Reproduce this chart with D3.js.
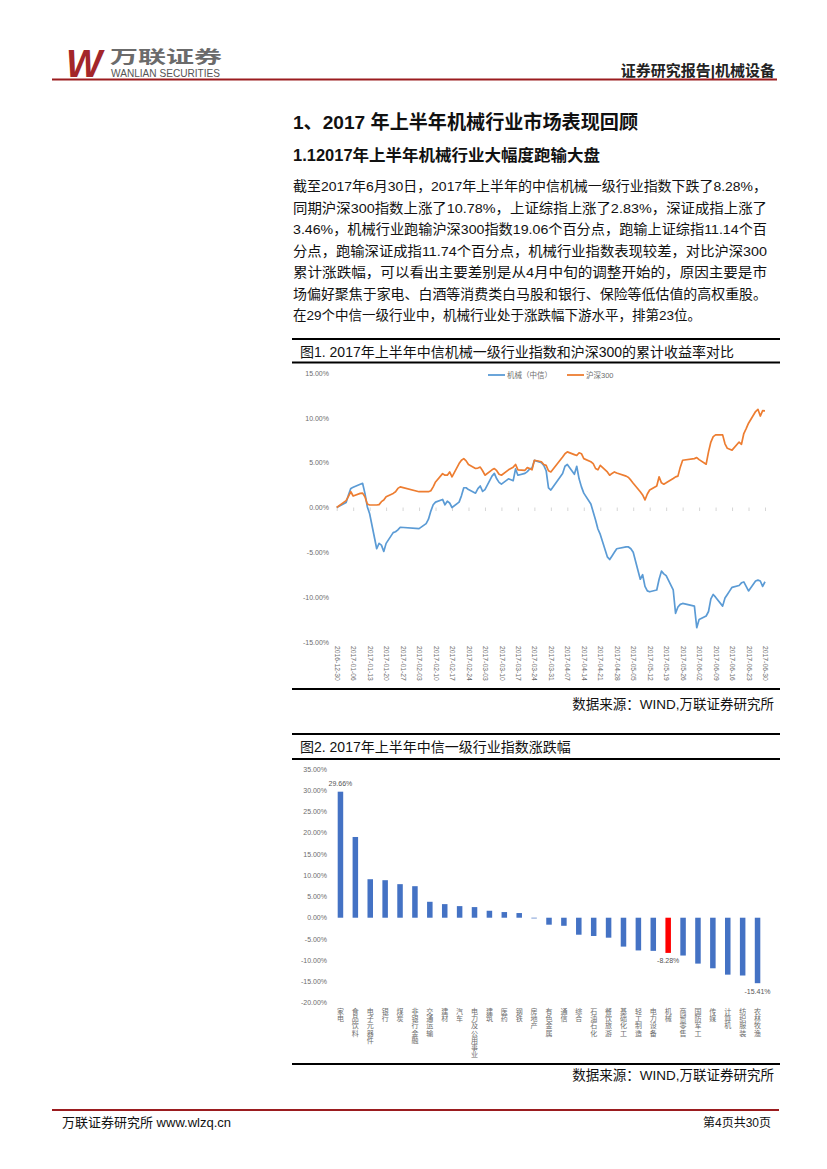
<!DOCTYPE html>
<html><head><meta charset="utf-8">
<script src="https://cdn.jsdelivr.net/npm/d3@7"></script>
<style>
body{margin:0;background:#fff;}
svg{display:block;font-family:"Liberation Sans","Noto Sans CJK SC",sans-serif;}
</style></head><body>
<svg id="page" width="827" height="1169"></svg>
<script>
// trading days of H1 2017 (figure 1)
const tradeDates = [
  "2016-12-30",
  "2017-01-03","2017-01-04","2017-01-05","2017-01-06",
  "2017-01-09","2017-01-10","2017-01-11","2017-01-12","2017-01-13",
  "2017-01-16","2017-01-17","2017-01-18","2017-01-19","2017-01-20",
  "2017-01-23","2017-01-24","2017-01-25","2017-01-26",
  "2017-02-03",
  "2017-02-06","2017-02-07","2017-02-08","2017-02-09","2017-02-10",
  "2017-02-13","2017-02-14","2017-02-15","2017-02-16","2017-02-17",
  "2017-02-20","2017-02-21","2017-02-22","2017-02-23","2017-02-24",
  "2017-02-27","2017-02-28","2017-03-01","2017-03-02","2017-03-03",
  "2017-03-06","2017-03-07","2017-03-08","2017-03-09","2017-03-10",
  "2017-03-13","2017-03-14","2017-03-15","2017-03-16","2017-03-17",
  "2017-03-20","2017-03-21","2017-03-22","2017-03-23","2017-03-24",
  "2017-03-27","2017-03-28","2017-03-29","2017-03-30","2017-03-31",
  "2017-04-05","2017-04-06","2017-04-07",
  "2017-04-10","2017-04-11","2017-04-12","2017-04-13","2017-04-14",
  "2017-04-17","2017-04-18","2017-04-19","2017-04-20","2017-04-21",
  "2017-04-24","2017-04-25","2017-04-26","2017-04-27","2017-04-28",
  "2017-05-02","2017-05-03","2017-05-04","2017-05-05",
  "2017-05-08","2017-05-09","2017-05-10","2017-05-11","2017-05-12",
  "2017-05-15","2017-05-16","2017-05-17","2017-05-18","2017-05-19",
  "2017-05-22","2017-05-23","2017-05-24","2017-05-25","2017-05-26",
  "2017-05-31","2017-06-01","2017-06-02",
  "2017-06-05","2017-06-06","2017-06-07","2017-06-08","2017-06-09",
  "2017-06-12","2017-06-13","2017-06-14","2017-06-15","2017-06-16",
  "2017-06-19","2017-06-20","2017-06-21","2017-06-22","2017-06-23",
  "2017-06-26","2017-06-27","2017-06-28","2017-06-29","2017-06-30"
];
// cumulative return, %
const machinery = [
  0,
  0.55,1.4,2.13,2.25,
  2.6,2.7,1.57,0.09,-0.7,
  -4.6,-4.0,-4.2,-4.9,-4.0,
  -2.8,-2.7,-2.5,-2.2,
  -2.35,
  -1.8,-1.3,-0.4,0.3,0.6,
  0.9,0.3,0.7,0.5,0.0,
  0.6,1.3,2.2,2.2,2.0,
  1.6,2.1,2.4,1.8,2.0,
  3.5,3.8,3.2,2.8,2.6,
  3.2,3.1,3.0,4.3,3.6,
  3.8,4.0,4.3,4.4,5.25,
  5.0,4.7,4.1,2.2,1.95,
  3.8,4.6,4.8,
  3.7,4.6,3.2,2.3,1.6,
  0.4,-0.5,-1.4,-2.4,-3.0,
  -5.5,-5.8,-5.4,-5.0,-4.6,
  -4.4,-4.4,-4.6,-5.0,
  -8.0,-7.5,-8.8,-9.3,-9.4,
  -9.2,-8.0,-7.1,-7.4,-7.6,
  -9.2,-11.8,-11.1,-10.8,-10.7,
  -11.0,-13.4,-12.5,
  -12.1,-11.6,-10.2,-9.7,-10.0,
  -11.0,-10.1,-9.7,-9.3,-8.9,
  -8.7,-8.4,-8.3,-8.8,-9.3,
  -8.2,-8.1,-8.2,-8.8,-8.28
];
const hs300 = [
  0,
  0.76,1.25,1.76,1.28,
  1.57,1.6,1.2,0.39,0.28,
  0.28,0.32,0.65,0.83,1.2,
  1.57,1.76,2.13,2.3,
  1.76,
  1.76,1.76,1.87,2.3,2.85,
  3.78,3.6,3.6,3.97,3.42,
  4.9,5.27,5.45,5.2,4.8,
  4.35,4.4,4.5,4.1,3.6,
  4.2,4.35,4.1,3.7,3.6,
  4.2,4.35,4.5,4.8,4.2,
  4.15,4.45,4.35,4.2,5.27,
  5.1,4.8,4.7,4.1,3.97,
  5.64,6.0,6.2,
  5.9,5.8,6.1,6.0,5.45,
  5.1,4.9,4.35,4.2,4.7,
  3.97,3.6,3.8,3.97,3.85,
  3.5,3.35,3.05,2.7,
  1.76,1.4,0.84,1.5,1.95,
  2.4,3.42,2.75,2.6,2.75,
  3.23,3.42,3.5,4.5,5.27,
  5.45,5.57,5.34,
  4.83,6.2,7.3,7.9,8.1,
  8.1,7.1,6.6,6.5,6.4,
  7.3,7.05,8.25,8.8,9.4,
  10.7,10.95,10.2,10.8,10.78
];
const seriesNames = ["机械（中信）", "沪深300"];
const weekTicks = [
  "2016-12-30","2017-01-06","2017-01-13","2017-01-20","2017-01-27","2017-02-03",
  "2017-02-10","2017-02-17","2017-02-24","2017-03-03","2017-03-10","2017-03-17",
  "2017-03-24","2017-03-31","2017-04-07","2017-04-14","2017-04-21","2017-04-28",
  "2017-05-05","2017-05-12","2017-05-19","2017-05-26","2017-06-02","2017-06-09",
  "2017-06-16","2017-06-23","2017-06-30"
];
const pctTicks1 = [-15, -10, -5, 0, 5, 10, 15];

// figure 2
const industries = ["家电","食品饮料","电子元器件","银行","煤炭","非银行金融","交通运输","建材","汽车",
  "电力及公用事业","建筑","医药","钢铁","房地产","有色金属","通信","综合","石油石化","餐饮旅游",
  "基础化工","轻工制造","电力设备","机械","商贸零售","国防军工","传媒","计算机","纺织服装","农林牧渔"];
const industryChange = [29.66,19.0,9.06,8.83,7.9,7.42,3.75,3.2,2.73,
  2.5,1.64,1.33,1.1,-0.16,-1.64,-1.9,-4.0,-4.3,-4.7,
  -6.8,-7.7,-7.8,-8.28,-8.9,-10.8,-11.9,-13.4,-13.6,-15.41];
const labelledBars = ["家电", "机械", "农林牧渔"];
const pctTicks2 = [-20, -15, -10, -5, 0, 5, 10, 15, 20, 25, 30, 35];

const paragraph = [
  "截至2017年6月30日，2017年上半年的中信机械一级行业指数下跌了8.28%，",
  "同期沪深300指数上涨了10.78%，上证综指上涨了2.83%，深证成指上涨了",
  "3.46%，机械行业跑输沪深300指数19.06个百分点，跑输上证综指11.14个百",
  "分点，跑输深证成指11.74个百分点，机械行业指数表现较差，对比沪深300",
  "累计涨跌幅，可以看出主要差别是从4月中旬的调整开始的，原因主要是市",
  "场偏好聚焦于家电、白酒等消费类白马股和银行、保险等低估值的高权重股。",
  "在29个中信一级行业中，机械行业处于涨跌幅下游水平，排第23位。"
];

const svg = d3.select("#page");
const darkRed = "#9b1c1f";

// ---------- header ----------
svg.append("text").attr("x", 66).attr("y", 77)
  .attr("font-size", 38).attr("font-weight", 900).attr("font-style", "italic")
  .attr("fill", "#a3262a").attr("textLength", 36).attr("lengthAdjust", "spacingAndGlyphs")
  .text("W");
svg.append("text").attr("x", 110).attr("y", 63)
  .attr("font-size", 17).attr("font-weight", 700).attr("fill", "#6b6b6b")
  .attr("textLength", 112).attr("lengthAdjust", "spacingAndGlyphs")
  .text("万联证券");
svg.append("text").attr("x", 111).attr("y", 77)
  .attr("font-size", 11).attr("fill", "#555")
  .attr("textLength", 109).attr("lengthAdjust", "spacingAndGlyphs")
  .text("WANLIAN SECURITIES");
svg.append("text").attr("x", 775).attr("y", 76).attr("text-anchor", "end")
  .attr("font-size", 15).attr("font-weight", 700).attr("fill", "#222")
  .text("证券研究报告|机械设备");
svg.append("line").attr("x1", 52).attr("x2", 777).attr("y1", 79.5).attr("y2", 79.5)
  .attr("stroke", darkRed).attr("stroke-width", 2.2);

// ---------- headings & paragraph ----------
svg.append("text").attr("x", 293).attr("y", 129)
  .attr("font-size", 19).attr("font-weight", 700).attr("fill", "#111")
  .attr("textLength", 345).attr("lengthAdjust", "spacingAndGlyphs")
  .text("1、2017 年上半年机械行业市场表现回顾");
svg.append("text").attr("x", 293).attr("y", 161)
  .attr("font-size", 16).attr("font-weight", 700).attr("fill", "#111")
  .attr("textLength", 307).attr("lengthAdjust", "spacingAndGlyphs")
  .text("1.12017年上半年机械行业大幅度跑输大盘");
svg.append("g").selectAll("text").data(paragraph).join("text")
  .attr("x", 293).attr("y", (d, i) => 191 + i * 21.5)
  .attr("font-size", 13.5).attr("fill", "#111")
  .each(function(d, i) {
    if (i < paragraph.length - 1) d3.select(this).attr("textLength", 474).attr("lengthAdjust", "spacingAndGlyphs");
  })
  .text(d => d);

function frame(top, titleY, underY, bottomY, sourceY, title) {
  svg.append("line").attr("x1", 292).attr("x2", 780).attr("y1", top).attr("y2", top)
    .attr("stroke", "#000").attr("stroke-width", 2);
  svg.append("text").attr("x", 300).attr("y", titleY).attr("font-size", 14).attr("fill", "#111").text(title);
  svg.append("line").attr("x1", 292).attr("x2", 780).attr("y1", underY).attr("y2", underY)
    .attr("stroke", "#000").attr("stroke-width", 2);
  svg.append("line").attr("x1", 292).attr("x2", 780).attr("y1", bottomY).attr("y2", bottomY)
    .attr("stroke", "#000").attr("stroke-width", 2);
  svg.append("text").attr("x", 774).attr("y", sourceY).attr("text-anchor", "end")
    .attr("font-size", 13.5).attr("fill", "#111").text("数据来源：WIND,万联证券研究所");
}

// ---------- figure 1 ----------
frame(339, 357, 362.5, 689, 709, "图1. 2017年上半年中信机械一级行业指数和沪深300的累计收益率对比");

const parse = d3.timeParse("%Y-%m-%d");
const x1 = d3.scaleTime().domain([parse("2016-12-30"), parse("2017-06-30")]).range([336.7, 765]);
const y1 = d3.scaleLinear().domain([-15, 15]).range([642, 373]);

svg.append("g").attr("transform", "translate(331,0)")
  .call(d3.axisLeft(y1).tickValues(pctTicks1).tickSize(0).tickPadding(2).tickFormat(d => d.toFixed(2) + "%"))
  .call(g => g.select(".domain").remove())
  .selectAll("text").attr("font-size", 7).attr("fill", "#6d6d6d").attr("font-family", "Liberation Sans");

svg.append("g").attr("transform", `translate(0,${y1(0)})`)
  .call(d3.axisBottom(x1).tickValues(weekTicks.map(parse)).tickSize(3.5).tickFormat(""))
  .call(g => g.select(".domain").remove())
  .selectAll("line").attr("stroke", "#d6d6d6");

svg.append("g").attr("transform", "translate(0,642)")
  .call(d3.axisBottom(x1).tickValues(weekTicks.map(parse)).tickSize(0).tickFormat(d3.timeFormat("%Y-%m-%d")))
  .call(g => g.select(".domain").remove())
  .selectAll("text")
  .attr("transform", "rotate(90)").attr("x", 4).attr("y", 0).attr("dy", "0.35em")
  .style("text-anchor", "start").attr("font-size", 6.8).attr("fill", "#6d6d6d").attr("font-family", "Liberation Sans");

const lineGen = d3.line().x(d => x1(d[0])).y(d => y1(d[1]));
const lineColors = ["#5b9bd5", "#ed7d31"];
[machinery, hs300].forEach((vals, k) => {
  svg.append("path")
    .datum(tradeDates.map((d, i) => [parse(d), vals[i]]))
    .attr("d", lineGen).attr("fill", "none")
    .attr("stroke", lineColors[k]).attr("stroke-width", 1.7).attr("stroke-linejoin", "round");
});

const legendX = [488, 567];
seriesNames.forEach((name, k) => {
  svg.append("line").attr("x1", legendX[k]).attr("x2", legendX[k] + 17).attr("y1", 375).attr("y2", 375)
    .attr("stroke", lineColors[k]).attr("stroke-width", 1.8);
  svg.append("text").attr("x", legendX[k] + 19).attr("y", 377.5)
    .attr("font-size", 7.5).attr("fill", "#6d6d6d").text(name);
});

// ---------- figure 2 ----------
frame(734, 752, 759, 1064, 1080, "图2. 2017年上半年中信一级行业指数涨跌幅");

const x2 = d3.scaleBand().domain(industries).range([333, 765]).paddingInner(0.63).paddingOuter(0.315);
const y2 = d3.scaleLinear().domain([-20, 35]).range([1002.7, 769]);

svg.append("g").attr("transform", "translate(329,0)")
  .call(d3.axisLeft(y2).tickValues(pctTicks2).tickSize(0).tickPadding(2).tickFormat(d => d.toFixed(2) + "%"))
  .call(g => g.select(".domain").remove())
  .selectAll("text").attr("font-size", 7).attr("fill", "#6d6d6d").attr("font-family", "Liberation Sans");

svg.append("g").selectAll("rect").data(industries).join("rect")
  .attr("x", d => x2(d)).attr("width", x2.bandwidth())
  .attr("y", (d, i) => y2(Math.max(0, industryChange[i])))
  .attr("height", (d, i) => Math.abs(y2(industryChange[i]) - y2(0)))
  .attr("fill", d => d === "机械" ? "#ff0000" : "#4472c4");

svg.append("g").selectAll("text").data(labelledBars).join("text")
  .attr("x", d => x2(d) + x2.bandwidth() / 2)
  .attr("y", d => {
    const v = industryChange[industries.indexOf(d)];
    return v >= 0 ? y2(v) - 6 : y2(v) + 10.5;
  })
  .attr("text-anchor", "middle").attr("font-size", 7).attr("fill", "#555").attr("font-family", "Liberation Sans")
  .text(d => industryChange[industries.indexOf(d)].toFixed(2) + "%");

svg.append("g").selectAll("text").data(industries).join("text")
  .attr("font-size", 7).attr("fill", "#6d6d6d").attr("text-anchor", "middle")
  .each(function(d) {
    const cx = x2(d) + x2.bandwidth() / 2;
    d3.select(this).selectAll("tspan").data(Array.from(d)).join("tspan")
      .attr("x", cx).attr("y", (c, j) => 1014 + j * 7.2).text(c => c);
  });

// ---------- footer ----------
svg.append("line").attr("x1", 52).attr("x2", 779).attr("y1", 1110).attr("y2", 1110)
  .attr("stroke", darkRed).attr("stroke-width", 2.2);
svg.append("text").attr("x", 62).attr("y", 1127).attr("font-size", 13).attr("fill", "#111")
  .text("万联证券研究所 www.wlzq.cn");
svg.append("text").attr("x", 771).attr("y", 1127).attr("text-anchor", "end").attr("font-size", 12).attr("fill", "#111")
  .text("第4页共30页");
</script>
</body></html>
